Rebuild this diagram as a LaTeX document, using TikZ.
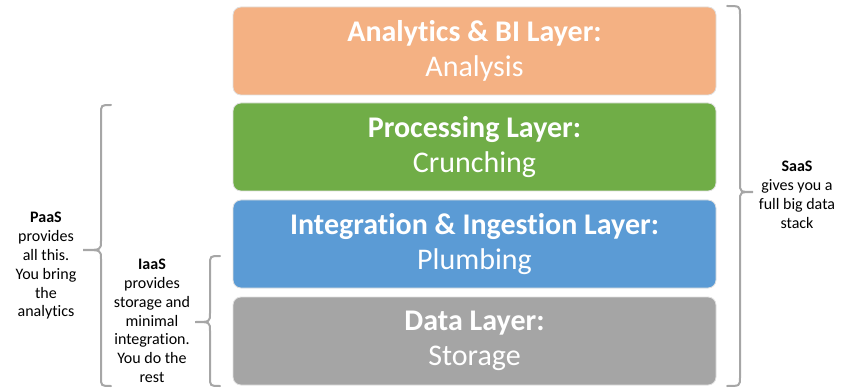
\documentclass[tikz,border=0pt]{standalone}
\usepackage{fontspec}
\setmainfont{Carlito}[Ligatures=NoCommon]
\definecolor{orangeL}{HTML}{F4B183}
\definecolor{greenL}{HTML}{70AD47}
\definecolor{blueL}{HTML}{5B9BD5}
\definecolor{grayL}{HTML}{A5A5A5}
\definecolor{braceC}{HTML}{A6A6A6}
\newcommand\mybrace[6]{\draw[bracestyle] (#1,#4) .. controls (#2,#4) .. (#2,#4+9) -- (#2,#5-9) .. controls (#2,#5) .. (#3,#5) .. controls (#2,#5) .. (#2,#5+9) -- (#2,#6-9) .. controls (#2,#6) .. (#1,#6);}
\begin{document}
\begin{tikzpicture}[x=1pt,y=-1pt,
  layer/.style={rounded corners=8pt, draw=black!12, line width=0.8pt, minimum width=483pt, minimum height=88pt, text=white, align=center, font=\fontsize{30}{35}\selectfont, inner sep=0pt},
  note/.style={align=center, font=\fontsize{16}{18.8}\selectfont, text=black, inner sep=0pt},
  bracestyle/.style={draw=braceC, line width=2pt, line cap=round}]
\useasboundingbox (0,0) rectangle (846,390);
\node[layer, fill=orangeL] (analytics) at (474.5,51) {\textbf{Analytics \& BI Layer:}\\Analysis};
\node[layer, fill=greenL] (processing) at (474.5,147) {\textbf{Processing Layer:}\\Crunching};
\node[layer, fill=blueL] (integration) at (474.5,244) {\textbf{Integration \& Ingestion Layer:}\\Plumbing};
\node[layer, fill=grayL] (data) at (474.5,341) {\textbf{Data Layer:}\\Storage};
\mybrace{111}{101}{83}{105}{250}{386}
\mybrace{220}{210}{195}{256}{322}{386}
\mybrace{727}{740}{753}{6}{192}{386}
\node[note] (paas) at (46,266) {\textbf{PaaS}\\provides\\all this.\\You bring\\the\\analytics};
\node[note] (iaas) at (152,321) {\textbf{IaaS}\\provides\\storage and\\minimal\\integration.\\You do the\\rest};
\node[note] (saas) at (797,195) {\textbf{SaaS}\\gives you a\\full big data\\stack};
\end{tikzpicture}
\end{document}
